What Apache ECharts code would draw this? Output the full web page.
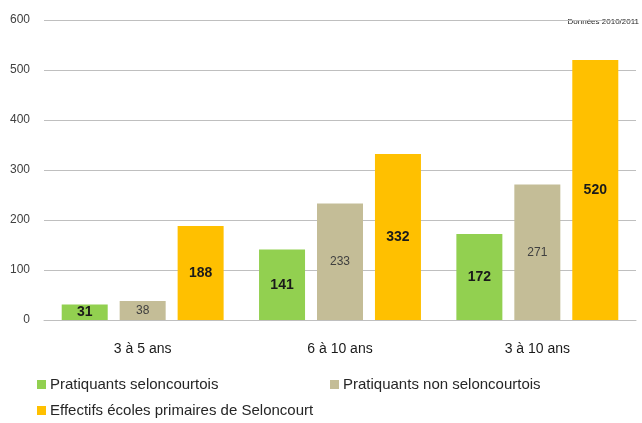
<!DOCTYPE html>
<html><head><meta charset="utf-8">
<script src="https://cdn.jsdelivr.net/npm/echarts@6/dist/echarts.min.js"></script>
<style>html,body{margin:0;padding:0;background:#fff}#c{width:642px;height:423px}</style>
</head><body><div id="c"></div>
<script>
const categories = ['3 à 5 ans', '6 à 10 ans', '3 à 10 ans'];
const seriesNames = ['Pratiquants seloncourtois', 'Pratiquants non seloncourtois', 'Effectifs écoles primaires de Seloncourt'];
const pratiquantsSeloncourtois = [31, 141, 172];
const pratiquantsNonSeloncourtois = [38, 233, 271];
const effectifsEcoles = [188, 332, 520];
const yTicks = [0, 100, 200, 300, 400, 500, 600];
const note = 'Données 2010/2011';

const FONT = '"Liberation Sans", Arial, sans-serif';
const colors = ['#92D050', '#C4BD97', '#FFC000'];
const chart = echarts.init(document.getElementById('c'), null, {renderer: 'canvas'});
function mkLegend(name, left, top) {
  return {data: [name], left: left, top: top, itemWidth: 9, itemHeight: 9, icon: 'rect', itemGap: 0,
    textStyle: {fontFamily: FONT, fontSize: 15, color: '#262626', padding: [0, 0, 0, -1]}, padding: 0};
}
const boldLabel = {show: true, position: 'inside', fontFamily: FONT, fontSize: 14, fontWeight: 'bold', color: '#1a1a1a'};
chart.setOption({
  animation: false,
  textStyle: {fontFamily: FONT},
  graphic: [{type: 'text', right: 3, top: 18, style: {text: note, fontSize: 8, fill: '#262626', fontFamily: FONT}}],
  legend: [
    mkLegend(seriesNames[0], 37, 377),
    mkLegend(seriesNames[1], 330, 377),
    mkLegend(seriesNames[2], 37, 403)
  ],
  grid: {left: 44, right: 6, top: 20, bottom: 103},
  xAxis: {type: 'category', data: categories,
    axisLine: {lineStyle: {color: '#BFBFBF'}}, axisTick: {show: false},
    axisLabel: {fontFamily: FONT, fontSize: 14, color: '#1a1a1a', margin: 22}},
  yAxis: {type: 'value', min: yTicks[0], max: yTicks[yTicks.length - 1], interval: 100,
    axisLine: {show: false}, axisTick: {show: false},
    axisLabel: {fontFamily: FONT, fontSize: 12, color: '#404040', margin: 14},
    splitLine: {lineStyle: {color: '#BFBFBF'}}},
  series: [
    {name: seriesNames[0], type: 'bar', data: pratiquantsSeloncourtois, barWidth: 46, barGap: '26%',
      itemStyle: {color: colors[0]}, label: boldLabel},
    {name: seriesNames[1], type: 'bar', data: pratiquantsNonSeloncourtois, barWidth: 46, barGap: '26%',
      itemStyle: {color: colors[1]}, label: {show: true, position: 'inside', fontFamily: FONT, fontSize: 12, color: '#404040'}},
    {name: seriesNames[2], type: 'bar', data: effectifsEcoles, barWidth: 46, barGap: '26%',
      itemStyle: {color: colors[2]}, label: boldLabel}
  ]
});
</script></body></html>
